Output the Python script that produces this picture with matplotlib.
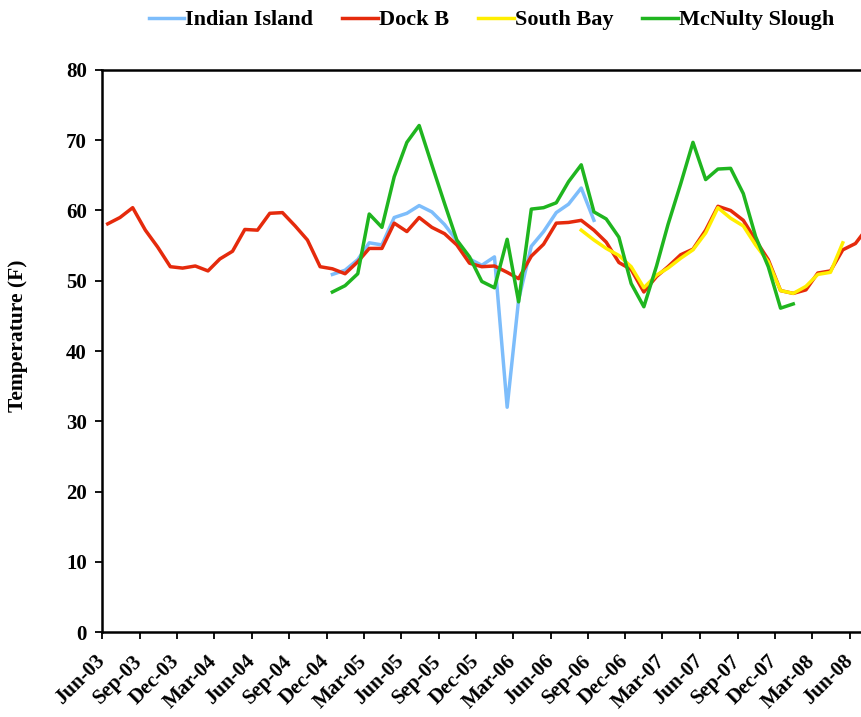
import numpy as np
import pandas as pd
import matplotlib
matplotlib.use('Agg')
import matplotlib.pyplot as plt
import matplotlib.transforms as mtransforms

plt.rcParams.update({
    'font.family': 'Liberation Serif',
    'font.weight': 'bold',
    'font.size': 14,
})

# monthly readings, Jun-03 .. Jul-08 (62 months), NaN where a site has no data
nan = np.nan
months = pd.date_range('2003-06-01', periods=62, freq='MS') + pd.Timedelta(days=14)

dock_b = [58.1, 59.0, 60.4, 57.2, 54.8, 52.0, 51.8, 52.1, 51.4, 53.1,
          54.2, 57.3, 57.2, 59.6, 59.7, 57.8, 55.8, 52.0, 51.7, 51.0,
          52.7, 54.6, 54.6, 58.2, 57.0, 59.0, 57.6, 56.7, 55.1, 52.5,
          52.0, 52.1, 51.2, 50.3, 53.5, 55.2, 58.2, 58.3, 58.6, 57.2,
          55.5, 52.6, 51.6, 48.4, 50.6, 52.0, 53.7, 54.5, 57.2, 60.6,
          60.0, 58.6, 55.8, 53.0, 48.6, 48.2, 48.7, 51.1, 51.4, 54.4,
          55.3, 57.6]

indian_island = [nan] * 18 + [
          50.9, 51.5, 53.0, 55.4, 55.1, 59.0, 59.6, 60.7, 59.8, 58.0,
          55.7, 53.1, 52.2, 53.4, 32.0, 47.3, 54.9, 57.0, 59.7, 60.9,
          63.2, 58.6] + [nan] * 22

south_bay = [nan] * 38 + [
          57.2, 55.8, 54.6, 53.6, 52.0, 49.0, 50.8, 51.8, 53.2, 54.4,
          56.8, 60.4, 58.9, 57.8, 55.1, 52.7, 48.6, 48.2, 49.2, 50.9,
          51.2, 55.4] + [nan] * 2

mcnulty = [nan] * 18 + [
          48.4, 49.3, 51.0, 59.5, 57.6, 64.8, 69.7, 72.1, 66.5, 61.0,
          55.8, 53.4, 49.9, 49.0, 55.9, 47.0, 60.2, 60.4, 61.1, 64.1,
          66.5, 59.8, 58.8, 56.2, 49.6, 46.3, 52.1, 58.0, 63.8, 69.7,
          64.4, 65.9, 66.0, 62.4, 56.3, 52.0, 46.1, 46.7] + [nan] * 6

series = [
    ('Indian Island', indian_island, '#7DBDFB'),
    ('Dock B', dock_b, '#E52A0C'),
    ('South Bay', south_bay, '#FFEE00'),
    ('McNulty Slough', mcnulty, '#1FB51F'),
]

fig = plt.figure(figsize=(8.62, 7.17), dpi=100)
ax = fig.add_axes([0.1183, 0.1185, 0.8817, 0.7839])

for name, vals, col in series:
    ax.plot(months, vals, color=col, lw=2.5, label=name)

ax.set_xlim(pd.Timestamp('2003-06-01'), pd.Timestamp('2008-07-01'))
ax.set_ylim(0, 80)
ax.set_yticks(range(0, 81, 10))

ticks = pd.date_range('2003-06-01', '2008-06-01', freq='3MS')
ax.set_xticks(ticks)
ax.set_xticklabels([t.strftime('%b-%y') for t in ticks], rotation=45,
                   ha='right', va='center', rotation_mode='anchor', fontsize=15)
shift = mtransforms.ScaledTranslation(9 / 100, 0, fig.dpi_scale_trans)
for lbl in ax.get_xticklabels():
    lbl.set_transform(lbl.get_transform() + shift)

ax.set_ylabel('Temperature (F)', fontsize=15.5, fontweight='bold')
ax.yaxis.set_label_coords(-0.097, 0.527)
ax.spines['right'].set_visible(False)
for s in ['left', 'bottom', 'top']:
    ax.spines[s].set_linewidth(1.8)
ax.tick_params(axis='both', direction='out', length=5, width=1.3)
ax.tick_params(axis='x', pad=14)
ax.tick_params(axis='y', labelsize=15, pad=6)

leg = fig.legend(loc='center', bbox_to_anchor=(0.57, 0.972), ncol=4,
                 frameon=False, handlelength=1.6, handletextpad=0.05,
                 columnspacing=1.3, fontsize=16)
for line in leg.get_lines():
    line.set_linewidth(2.5)

fig.savefig('out.png', dpi=100)
